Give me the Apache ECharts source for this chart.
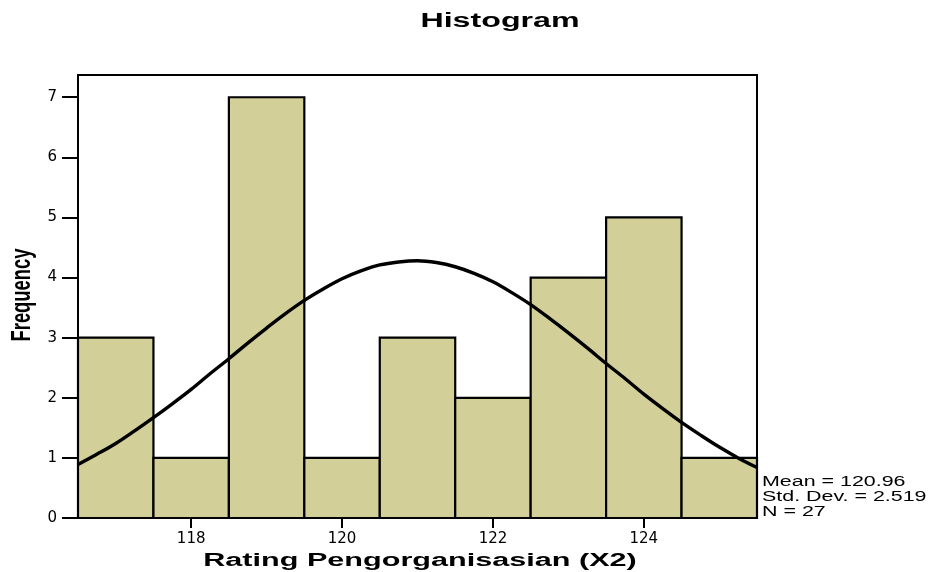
<!DOCTYPE html>
<html>
<head>
<meta charset="utf-8">
<script src="https://cdn.jsdelivr.net/npm/echarts@6/dist/echarts.min.js"></script>
<style>
html,body{margin:0;padding:0;background:#fff;}
#chart{width:930px;height:572px;}
</style>
</head>
<body>
<div id="chart"></div>
<script>
// ---- data ----
var binStarts = [116.5, 117.5, 118.5, 119.5, 120.5, 121.5, 122.5, 123.5, 124.5];
var binEnds   = [117.5, 118.5, 119.5, 120.5, 121.5, 122.5, 123.5, 124.5, 125.5];
var frequencies = [3, 1, 7, 1, 3, 2, 4, 5, 1];
var xTicks = [118, 120, 122, 124];
var yTicks = [0, 1, 2, 3, 4, 5, 6, 7];
var curveX = [116.5, 116.75, 117, 117.25, 117.5, 117.75, 118, 118.25, 118.5, 118.75,
              119, 119.25, 119.5, 119.75, 120, 120.25, 120.5, 120.75, 121, 121.25,
              121.5, 121.75, 122, 122.25, 122.5, 122.75, 123, 123.25, 123.5, 123.75,
              124, 124.25, 124.5, 124.75, 125, 125.25, 125.5];
var curveY = [0.89, 1.06, 1.24, 1.45, 1.67, 1.90, 2.14, 2.40, 2.65, 2.91,
              3.16, 3.40, 3.62, 3.81, 3.98, 4.11, 4.21, 4.26, 4.28, 4.25,
              4.18, 4.07, 3.93, 3.75, 3.55, 3.32, 3.08, 2.83, 2.57, 2.32,
              2.06, 1.82, 1.59, 1.38, 1.18, 1.00, 0.84];
var statsLines = ['Mean = 120.96', 'Std. Dev. = 2.519', 'N = 27'];
var titleText = 'Histogram';
var xName = 'Rating Pengorganisasian (X2)';
var yName = 'Frequency';

// ---- build chart ----
var barData = binStarts.map(function (s, i) { return [s, binEnds[i], frequencies[i]]; });
var curveData = curveX.map(function (x, i) { return [x, curveY[i]]; });

var chart = echarts.init(document.getElementById('chart'));
var FONT = 'Liberation Sans, Arial, Helvetica, sans-serif';

chart.setOption({
  animation: false,
  backgroundColor: '#ffffff',
  grid: {
    left: 78, right: 173, top: 75, bottom: 54,
    show: true, borderColor: '#000', borderWidth: 2, backgroundColor: '#ffffff'
  },
  xAxis: {
    type: 'value',
    min: 116.5, max: 125.5,
    axisLine: { show: true, lineStyle: { color: '#000', width: 2 } },
    axisTick: { show: true, length: 10, lineStyle: { color: '#000', width: 2 }, customValues: xTicks },
    axisLabel: {
      color: '#000', fontFamily: 'DejaVu Sans', fontSize: 15, margin: 14,
      customValues: xTicks
    },
    splitLine: { show: false }
  },
  yAxis: {
    type: 'value',
    min: 0, max: 7.37, interval: 1,
    axisLine: { show: true, lineStyle: { color: '#000', width: 2 } },
    axisTick: { show: true, length: 16, lineStyle: { color: '#000', width: 2 }, customValues: yTicks },
    axisLabel: {
      color: '#000', fontFamily: 'DejaVu Sans', fontSize: 15, margin: 21,
      customValues: yTicks
    },
    splitLine: { show: false }
  },
  graphic: [
    {
      type: 'text', x: 500, y: 22, scaleX: 1.65, z: 10,
      style: { text: titleText, font: 'bold 19.5px ' + FONT, fill: '#000', align: 'center', verticalAlign: 'middle' }
    },
    {
      type: 'text', x: 420, y: 561, scaleX: 1.7, z: 10,
      style: { text: xName, font: 'bold 18px ' + FONT, fill: '#000', align: 'center', verticalAlign: 'middle' }
    },
    {
      type: 'text', x: 22, y: 295, rotation: Math.PI / 2, scaleY: 1.5, z: 10,
      style: { text: yName, font: 'bold 18.4px ' + FONT, fill: '#000', align: 'center', verticalAlign: 'middle' }
    },
    {
      type: 'text', x: 762, y: 497.5, scaleX: 1.53, z: 10,
      style: { text: statsLines.join('\n'), font: '14px ' + FONT, lineHeight: 15, fill: '#000', align: 'left', verticalAlign: 'middle' }
    }
  ],
  series: [
    {
      type: 'custom',
      data: barData,
      encode: { x: [0, 1], y: 2 },
      z: 2,
      renderItem: function (params, api) {
        var p0 = api.coord([api.value(0), 0]);
        var p1 = api.coord([api.value(1), api.value(2)]);
        return {
          type: 'rect',
          shape: { x: p0[0], y: p1[1], width: p1[0] - p0[0], height: p0[1] - p1[1] },
          style: { fill: '#D3CF99', stroke: '#000', lineWidth: 2.2 }
        };
      }
    },
    {
      type: 'line',
      data: curveData,
      smooth: 0.35,
      showSymbol: false,
      symbol: 'none',
      z: 5,
      lineStyle: { color: '#000', width: 3.4 }
    }
  ]
});
</script>
</body>
</html>
